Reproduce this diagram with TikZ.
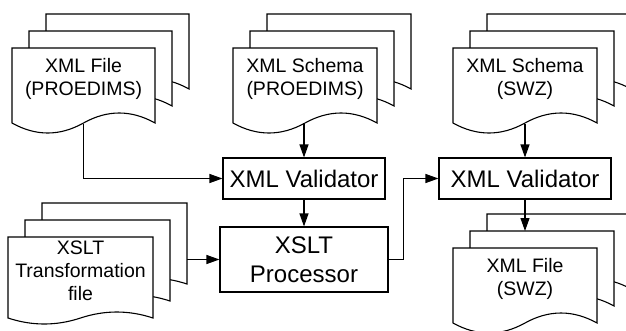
\documentclass[tikz,border=0pt]{standalone}
\usepackage{fontspec}
\setmainfont{Liberation Sans}
\usetikzlibrary{positioning}
\usetikzlibrary{arrows.meta}

% stack of three pages: [wave]{name}{left}{top}{width}{height}{text}
\newcommand{\docstack}[7][10]{%
    \foreach \k in {2,1,0}{
        \pgfmathsetmacro\px{#3+17*\k}
        \pgfmathsetmacro\py{#4-17*\k}
        \draw [page] (\px,{\py+#6}) -- (\px,\py) -- ({\px+#5},\py) -- ({\px+#5},{\py+#6})
            .. controls ({\px+5*#5/6},{\py+#6-4*#1/3}) and ({\px+4*#5/6},{\py+#6-4*#1/3}) .. ({\px+#5/2},{\py+#6})
            .. controls ({\px+#5/3},{\py+#6+4*#1/3}) and ({\px+#5/6},{\py+#6+4*#1/3}) .. (\px,{\py+#6}) -- cycle;
    }
    \node [docpage, minimum width=#5pt, minimum height=#6pt] (#2) at ({#3+#5/2},{#4+#6/2}) {};
    \node [doctext] (#2-text) at ([yshift=7pt]#2.center) {#7};
    \coordinate (#2-p1) at ({#3+17},{#4-17});
    \coordinate (#2-p2) at ({#3+34+#5},{#4-34});
}

\begin{document}
\begin{tikzpicture}[x=1pt, y=-1pt, line width=1.1pt, node distance=81pt]
    \tikzstyle{block} = [rectangle, draw, fill=white, text centered, align=center,
    font=\fontsize{24}{29}\selectfont, inner sep=0pt]
    \tikzstyle{line} = [draw, -{Triangle[length=13pt, width=9pt]}]
    \tikzstyle{page} = [draw, fill=white, line join=miter]
    \tikzstyle{docpage} = [rectangle, inner sep=0pt]
    \tikzstyle{doctext} = [align=center, font=\fontsize{19.5}{23}\selectfont, inner sep=0pt]
    \useasboundingbox (0,0) rectangle (626,330);
    \clip (0,0) rectangle (626,330);
    \docstack{file1}{12}{48}{143}{75}{XML File\\(PROEDIMS)}
    \docstack{schema1}{233}{48}{144}{75}{XML Schema\\(PROEDIMS)}
    \docstack{schema2}{453}{48}{144}{75}{XML Schema\\(SWZ)}
    \docstack[6]{xsltfile}{8}{237}{145}{81}{XSLT\\Transformation\\file}
    \docstack{file2}{453}{248}{144}{75}{XML File\\(SWZ)}
    \node [block, minimum width=162pt, minimum height=41pt] (valid1) at (304,178.5) {XML Validator};
    \node [block, below of=valid1, minimum width=168pt, minimum height=65pt] (xslt) {XSLT\\Processor};
    \node [block, right of=valid1, node distance=221pt, minimum width=172pt, minimum height=41pt] (valid2) {XML Validator};
    \path [line] (file1.south) |- (valid1.west);
    \path [line] (schema1.south) -- (schema1.south -| valid1.north) -- (valid1.north);
    \path [line] (valid1.south) -- (valid1.south |- xslt.north);
    \path [line] (xsltfile-p2 |- xslt.west) -- (xslt.west);
    \path [line] (xslt.east) -- ++(15,0) |- (valid2.west);
    \path [line] (schema2.south) -- (valid2.north);
    \path [line] (valid2.south) -- (valid2.south |- file2-p1);
\end{tikzpicture}
\end{document}
